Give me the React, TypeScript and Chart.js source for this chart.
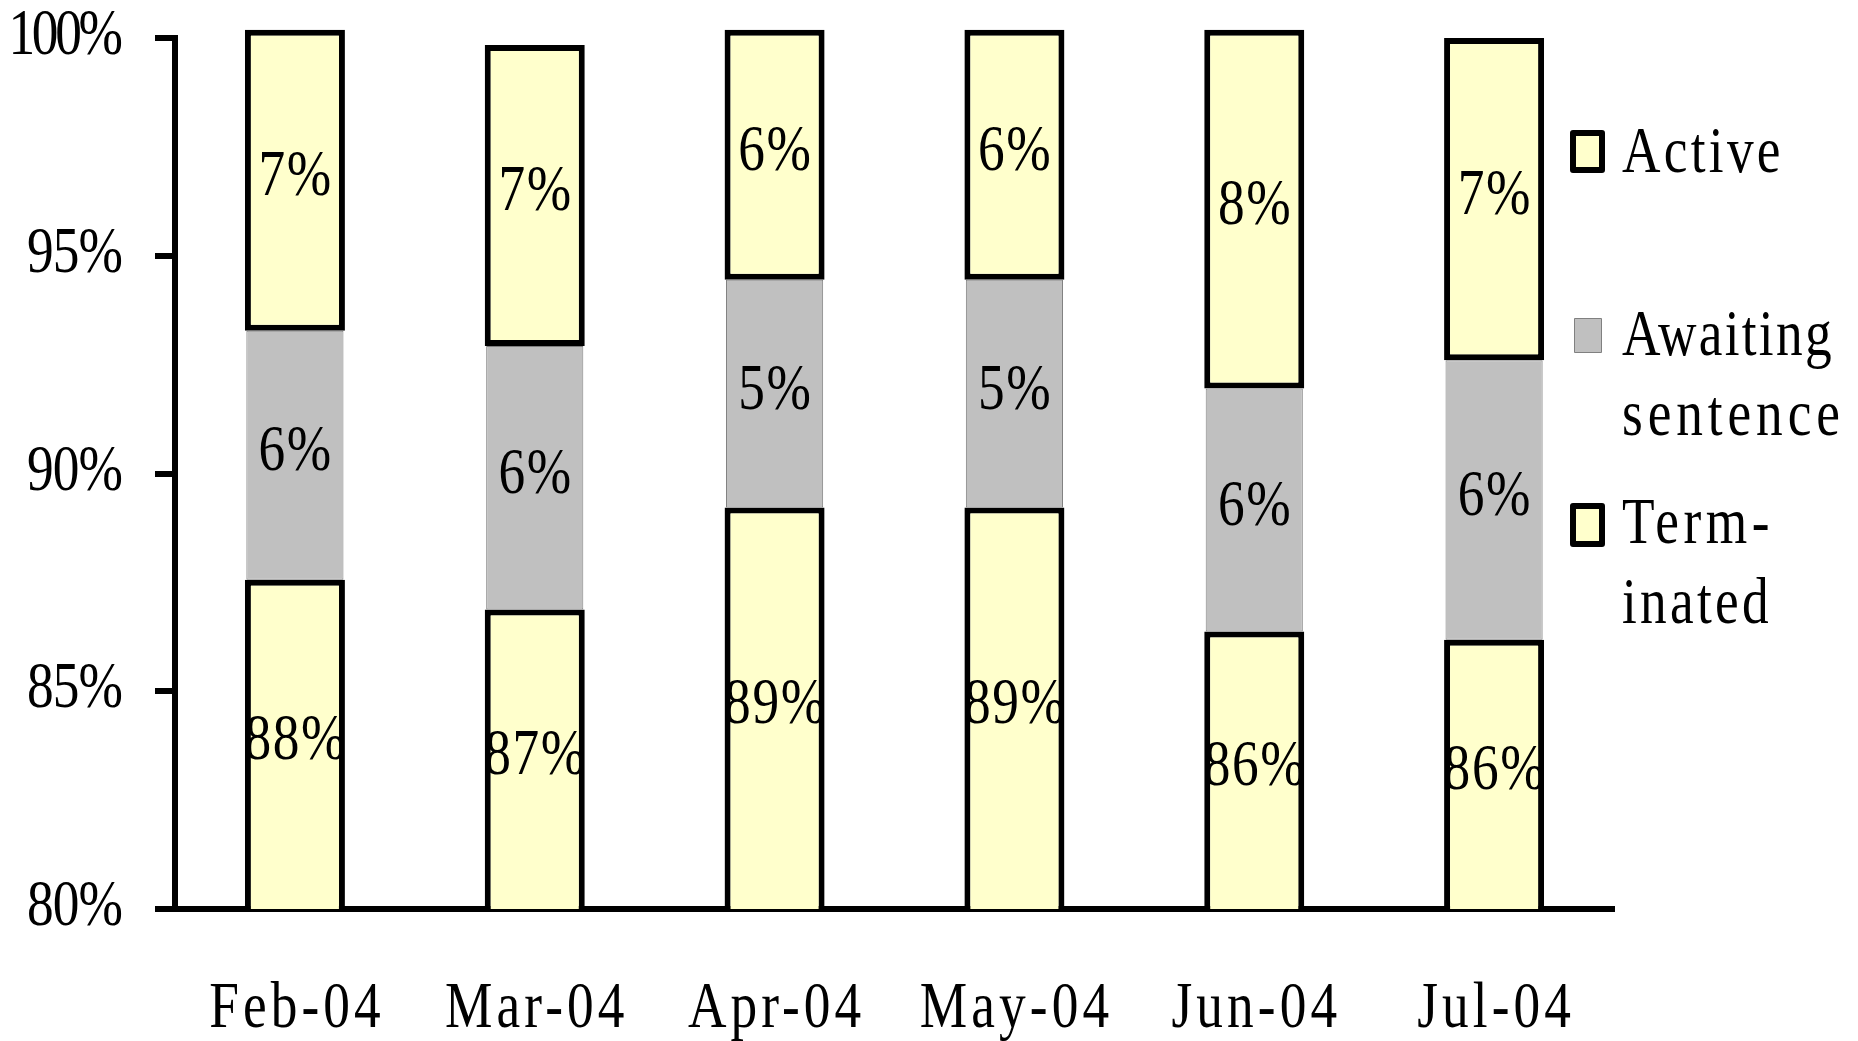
import React, { useEffect, useRef } from 'react';
import { Chart, registerables } from 'chart.js';

Chart.register(...registerables);

const categories = ['Feb-04', 'Mar-04', 'Apr-04', 'May-04', 'Jun-04', 'Jul-04'];
const terminatedValues = [87.56, 86.88, 89.22, 89.22, 86.37, 86.18];
const awaitingValues = [5.72, 6.05, 5.23, 5.23, 5.58, 6.42];
const activeValues = [6.91, 6.91, 5.74, 5.74, 8.24, 7.4];
const yTickValues = [80, 85, 90, 95, 100];
const legendActive = ['Active'];
const legendAwaiting = ['Awaiting', 'sentence'];
const legendTerminated = ['Term-', 'inated'];

const W = 1858;
const H = 1041;
const FONT = '"Liberation Serif", "Times New Roman", serif';
const YELLOW = '#FFFFCC';
const GRAY = '#C0C0C0';
const SX = 0.82;
const FS = 65;

function drawText(ctx: CanvasRenderingContext2D, text: string, x: number, y: number, size: number, align: CanvasTextAlign, spacing: number) {
  ctx.save();
  ctx.font = `${size}px ${FONT}`;
  (ctx as any).letterSpacing = `${spacing}px`;
  ctx.fillStyle = '#000';
  ctx.textBaseline = 'alphabetic';
  ctx.textAlign = align;
  let dx = 0;
  if (align === 'center') dx = (spacing * SX) / 2;
  if (align === 'right') dx = spacing * SX;
  ctx.translate(x + dx, y);
  ctx.scale(SX, 1);
  ctx.fillText(text, 0, 0);
  ctx.restore();
}

function legendBox(ctx: CanvasRenderingContext2D, x: number, y: number, w: number, h: number, fill: string, stroke: string, lw: number) {
  ctx.save();
  ctx.fillStyle = fill;
  ctx.strokeStyle = stroke;
  ctx.lineWidth = lw;
  ctx.lineJoin = 'round';
  ctx.beginPath();
  ctx.rect(x + lw / 2, y + lw / 2, w - lw, h - lw);
  ctx.fill();
  ctx.stroke();
  ctx.restore();
}

const textPlugin = {
  id: 'customText',
  afterDatasetsDraw(chart: any) {
    const ctx = chart.ctx as CanvasRenderingContext2D;
    const area = chart.chartArea;
    chart.data.datasets.forEach((ds: any, di: number) => {
      const meta = chart.getDatasetMeta(di);
      meta.data.forEach((bar: any, i: number) => {
        const p = bar.getProps(['x', 'y', 'base'], true);
        const top = p.y;
        const bottom = Math.min(p.base, area.bottom);
        const cy = (top + bottom) / 2 - 7;
        drawText(ctx, Math.round(ds.data[i]) + '%', p.x, cy + 22, FS, 'center', 2);
      });
    });
  },
  afterDraw(chart: any) {
    const ctx = chart.ctx as CanvasRenderingContext2D;
    const xs = chart.scales.x;
    const ys = chart.scales.y;
    yTickValues.forEach((v) => {
      drawText(ctx, v + '%', 123, ys.getPixelForValue(v) + 16, FS, 'right', v === 100 ? -4 : -1);
    });
    categories.forEach((c, i) => {
      drawText(ctx, c, xs.getPixelForValue(i), 1027, FS, 'center', 5);
    });
    // legend
    legendBox(ctx, 1570, 130, 35, 43, YELLOW, '#000', 6);
    legendActive.forEach((t, i) => drawText(ctx, t, 1622, 172 + i * 80, FS, 'left', 4));
    legendBox(ctx, 1574, 318, 28, 35, GRAY, '#808080', 1);
    legendAwaiting.forEach((t, i) => drawText(ctx, t, 1622, 355 + i * 80, FS, 'left', i === 0 ? 2.8 : 6));
    legendBox(ctx, 1570, 503, 35, 44, YELLOW, '#000', 6);
    legendTerminated.forEach((t, i) => drawText(ctx, t, 1622, 543 + i * 80, FS, 'left', i === 0 ? 5.5 : 4));
  },
};

export default function App() {
  const ref = useRef<HTMLCanvasElement>(null);
  useEffect(() => {
    document.body.style.margin = '0';
    const canvas = ref.current!;
    const clip = { left: 0, top: false, right: 0, bottom: 0 } as any;
    const chart = new Chart(canvas, {
      type: 'bar',
      data: {
        labels: categories,
        datasets: [
          {
            label: 'Terminated',
            data: terminatedValues,
            backgroundColor: YELLOW,
            borderColor: '#000',
            borderWidth: 6,
            borderSkipped: false,
            barPercentage: 0.417,
            categoryPercentage: 1,
            clip,
          },
          {
            label: 'Awaiting sentence',
            data: awaitingValues,
            backgroundColor: GRAY,
            borderColor: '#808080',
            borderWidth: 1,
            borderSkipped: false,
            barPercentage: 0.405,
            categoryPercentage: 1,
            clip,
          },
          {
            label: 'Active',
            data: activeValues,
            backgroundColor: YELLOW,
            borderColor: '#000',
            borderWidth: 6,
            borderSkipped: false,
            barPercentage: 0.417,
            categoryPercentage: 1,
            clip,
          },
        ],
      },
      options: {
        responsive: false,
        devicePixelRatio: 1,
        animation: false,
        layout: { padding: { left: 0, top: 38, right: 244, bottom: 0 } },
        plugins: { legend: { display: false }, tooltip: { enabled: false } },
        scales: {
          x: {
            stacked: true,
            z: 1,
            grid: { display: true, drawOnChartArea: false, drawTicks: false },
            border: { display: true, color: '#000', width: 6 },
            ticks: { display: false },
            afterFit: (s: any) => { s.height = 132; },
          },
          y: {
            stacked: true,
            z: 1,
            min: 80,
            max: 100,
            grid: { display: true, drawOnChartArea: false, drawTicks: true, tickLength: 20, lineWidth: 6, color: '#000' },
            border: { display: true, color: '#000', width: 6 },
            ticks: { display: false, stepSize: 5 },
            afterFit: (s: any) => { s.width = 175; },
          },
        },
      },
      plugins: [textPlugin],
    } as any);
    return () => chart.destroy();
  }, []);
  return (
    <canvas
      ref={ref}
      width={W}
      height={H}
      style={{ position: 'absolute', left: 0, top: 0, width: W, height: H, display: 'block' }}
    />
  );
}
